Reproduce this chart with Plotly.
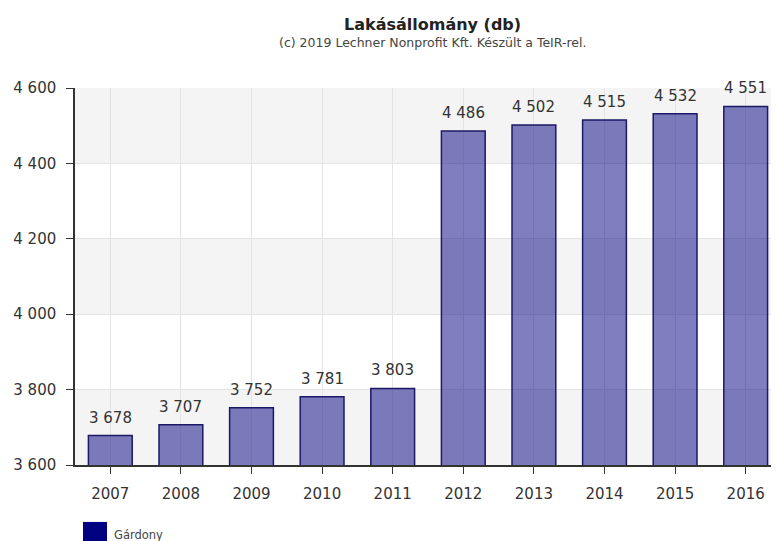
import plotly.graph_objects as go

years = ["2007", "2008", "2009", "2010", "2011", "2012", "2013", "2014", "2015", "2016"]
values = [3678, 3707, 3752, 3781, 3803, 4486, 4502, 4515, 4532, 4551]
series_name = "Gárdony"
title = "Lakásállomány (db)"
subtitle = "(c) 2019 Lechner Nonprofit Kft. Készült a TeIR-rel."
y_ticks = [3600, 3800, 4000, 4200, 4400, 4600]

FONT = "DejaVu Sans, Verdana, sans-serif"


def fmt(v):
    return f"{v:,}".replace(",", " ")


fig = go.Figure()
fig.add_trace(go.Bar(
    x=list(range(len(years))), y=values,
    marker=dict(color="rgba(0,0,128,0.5)", line=dict(color="#1a1a66", width=1.5)),
    width=0.62,
    name=series_name, showlegend=False, hoverinfo="x+y",
))

shapes = []
for i in range(0, len(y_ticks) - 1, 2):
    shapes.append(dict(type="rect", xref="paper", yref="y", x0=0, x1=1,
                       y0=y_ticks[i], y1=y_ticks[i + 1], fillcolor="#f4f4f4",
                       line=dict(width=0), layer="below"))
# legend swatch (plot-area paper coords)
shapes.append(dict(type="rect", xref="paper", yref="paper", x0=0.0113, x1=0.0453,
                   y0=-0.215, y1=-0.151, fillcolor="#000080", line=dict(width=0)))

annotations = [
    dict(text=f"<b>{title}</b>", xref="paper", yref="paper", x=0.507, y=1.168,
         xanchor="center", yanchor="middle", showarrow=False,
         font=dict(family=FONT, size=16, color="#222")),
    dict(text=subtitle, xref="paper", yref="paper", x=0.507, y=1.122,
         xanchor="center", yanchor="middle", showarrow=False,
         font=dict(family=FONT, size=12.5, color="#444")),
    dict(text=series_name, xref="paper", yref="paper", x=0.0524, y=-0.186,
         xanchor="left", yanchor="middle", showarrow=False,
         font=dict(family=FONT, size=11.5, color="#444")),
]
for i, v in enumerate(values):
    annotations.append(dict(text=fmt(v), x=i, y=v, xref="x", yref="y",
                            xanchor="center", yanchor="middle", yshift=18,
                            showarrow=False,
                            font=dict(family=FONT, size=15, color="#333")))

fig.update_layout(
    width=773, height=541,
    margin=dict(l=67, r=0, t=80, b=84),
    paper_bgcolor="white", plot_bgcolor="white",
    separators=", ",
    font=dict(family=FONT, color="#333"),
    shapes=shapes,
    annotations=annotations,
    showlegend=False,
    xaxis=dict(
        range=[-0.5, 9.5],
        tickmode="array", tickvals=list(range(len(years))), ticktext=years,
        showgrid=True, gridcolor="#e4e4e4", gridwidth=1,
        showline=True, linecolor="#333", linewidth=1.5,
        ticks="outside", ticklen=7, tickcolor="#333",
        tickfont=dict(family=FONT, size=15, color="#333"),
        ticklabelstandoff=7, zeroline=False,
    ),
    yaxis=dict(
        range=[3600, 4600],
        tickvals=y_ticks, tickformat=",d",
        showgrid=True, gridcolor="#e4e4e4", gridwidth=1,
        showline=True, linecolor="#333", linewidth=1.5,
        ticks="outside", ticklen=7, tickcolor="#333",
        tickfont=dict(family=FONT, size=15, color="#333"),
        ticklabelstandoff=7, zeroline=False,
    ),
)

fig.write_html("out.html")
